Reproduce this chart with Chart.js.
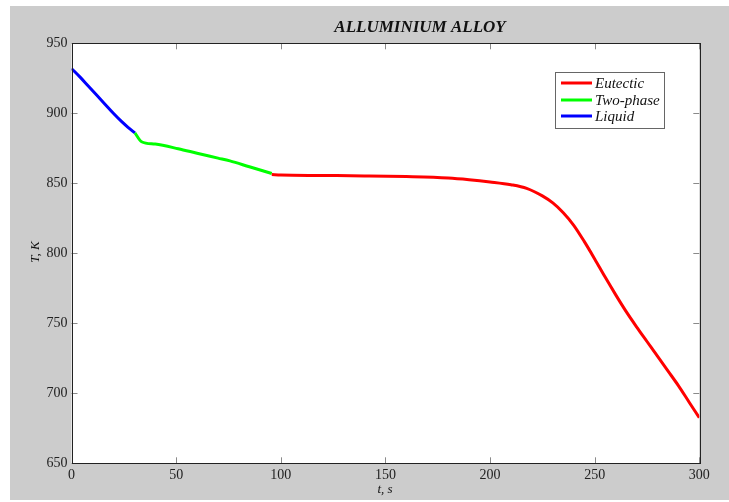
<!DOCTYPE html>
<html lang="en">
    <head>
        <meta charset="UTF-8">
        <title>Alluminium alloy</title>
        <script src="https://cdn.jsdelivr.net/npm/chart.js"></script>
        <style>
            body { margin: 0; background: white; }
            #wrap { width: 729px; height: 502px; }
        </style>
    </head>
    <body>
        <div id="wrap"><canvas id="coolingChart" width="729" height="502"></canvas></div>
        <script>
            // cooling curve (t in s, T in K)
            const liquidT = [0, 4, 8, 12, 16, 20, 24, 27, 30.3];
            const liquidK = [932, 926, 919.5, 913, 906.5, 900, 894, 890, 886];
            const twoPhaseT = [30.3, 33.5, 40, 51, 60, 70, 75.7, 85, 95.7];
            const twoPhaseK = [886, 879.7, 878, 874.7, 871.5, 868, 866, 861.8, 857];
            const eutecticT = [95.7, 100, 120, 140, 160, 180, 190, 200, 210, 217.5, 225, 230, 235, 240, 245, 250, 255, 260, 265, 270, 275, 280, 285, 290, 295, 300];
            const eutecticK = [856.2, 855.9, 855.6, 855.3, 854.8, 853.8, 852.6, 851, 849, 846.4, 841, 836, 829, 820, 808.5, 796, 783, 770.5, 758.5, 747.5, 737, 726.5, 716, 705.5, 694, 682.5];
            const xTicks = [0, 50, 100, 150, 200, 250, 300];
            const yTicks = [650, 700, 750, 800, 850, 900, 950];

            const pts = (xs, ys) => xs.map((x, i) => ({x: x, y: ys[i]}));
            const serif = '"Liberation Serif", "Times New Roman", serif';

            const framePlugin = {
                id: 'frame',
                beforeDraw(chart) {
                    const ctx = chart.ctx;
                    const a = chart.chartArea;
                    ctx.save();
                    ctx.fillStyle = '#ffffff';
                    ctx.fillRect(0, 0, chart.width, chart.height);
                    ctx.fillStyle = '#cccccc';
                    ctx.fillRect(10, 6, chart.width - 10, 494);
                    ctx.fillStyle = '#ffffff';
                    ctx.fillRect(a.left, a.top, a.right - a.left, a.bottom - a.top);
                    ctx.restore();
                },
                afterDraw(chart) {
                    const ctx = chart.ctx;
                    const a = chart.chartArea;
                    const xs = chart.scales.x, ys = chart.scales.y;
                    ctx.save();
                    // inward ticks on all four sides
                    ctx.strokeStyle = '#8a8a8a';
                    ctx.lineWidth = 1;
                    ctx.beginPath();
                    xTicks.forEach(v => {
                        const px = Math.round(xs.getPixelForValue(v)) + 0.5;
                        ctx.moveTo(px, a.bottom); ctx.lineTo(px, a.bottom - 6);
                        ctx.moveTo(px, a.top); ctx.lineTo(px, a.top + 6);
                    });
                    yTicks.forEach(v => {
                        const py = Math.round(ys.getPixelForValue(v)) + 0.5;
                        ctx.moveTo(a.left, py); ctx.lineTo(a.left + 6, py);
                        ctx.moveTo(a.right, py); ctx.lineTo(a.right - 6, py);
                    });
                    ctx.stroke();
                    ctx.strokeStyle = '#222222';
                    ctx.strokeRect(Math.round(a.left) + 0.5, Math.round(a.top) + 0.5,
                        Math.round(a.right - a.left), Math.round(a.bottom - a.top));

                    // title and axis names
                    ctx.fillStyle = '#111111';
                    ctx.textAlign = 'center';
                    ctx.textBaseline = 'alphabetic';
                    ctx.font = 'italic bold 17px ' + serif;
                    ctx.fillText('ALLUMINIUM ALLOY', 420, 32);
                    ctx.font = 'italic 13px ' + serif;
                    ctx.fillText('t, s', 385, 493);
                    ctx.save();
                    ctx.translate(39, 252);
                    ctx.rotate(-Math.PI / 2);
                    ctx.fillText('T, K', 0, 0);
                    ctx.restore();

                    // legend box
                    ctx.fillStyle = '#ffffff';
                    ctx.fillRect(555.5, 72.5, 109, 56);
                    ctx.strokeStyle = '#666666';
                    ctx.strokeRect(555.5, 72.5, 109, 56);
                    ctx.font = 'italic 15px ' + serif;
                    ctx.textAlign = 'left';
                    ctx.textBaseline = 'middle';
                    const rows = [83, 100, 116];
                    chart.data.datasets.forEach((ds, i) => {
                        ctx.strokeStyle = ds.borderColor;
                        ctx.lineWidth = 3;
                        ctx.beginPath();
                        ctx.moveTo(561, rows[i]); ctx.lineTo(592, rows[i]);
                        ctx.stroke();
                        ctx.fillStyle = '#111111';
                        ctx.fillText(ds.label, 595, rows[i] + 1);
                    });
                    ctx.restore();
                }
            };

            const line = (label, color, xs, ys) => ({
                label: label,
                data: pts(xs, ys),
                borderColor: color,
                backgroundColor: color,
                borderWidth: 3,
                pointRadius: 0,
                cubicInterpolationMode: 'monotone',
                fill: false
            });

            new Chart(document.getElementById('coolingChart'), {
                type: 'line',
                data: {
                    datasets: [
                        line('Eutectic', '#ff0000', eutecticT, eutecticK),
                        line('Two-phase', '#00ff00', twoPhaseT, twoPhaseK),
                        line('Liquid', '#0000ff', liquidT, liquidK)
                    ]
                },
                options: {
                    responsive: false,
                    animation: false,
                    layout: { padding: { left: 0, top: 43.3, right: 29.7, bottom: 0 } },
                    plugins: {
                        legend: { display: false },
                        tooltip: { enabled: false }
                    },
                    scales: {
                        x: {
                            type: 'linear',
                            min: 0, max: 300,
                            afterFit: s => { s.height = 38.7; },
                            afterBuildTicks: s => { s.ticks = xTicks.map(v => ({value: v})); },
                            grid: { display: false, drawTicks: false },
                            border: { display: false },
                            ticks: { padding: 4, color: '#222222', font: { family: serif, size: 14 } }
                        },
                        y: {
                            min: 650, max: 950,
                            afterFit: s => { s.width = 71.5; },
                            afterBuildTicks: s => { s.ticks = yTicks.map(v => ({value: v})); },
                            grid: { display: false, drawTicks: false },
                            border: { display: false },
                            ticks: { padding: 4, color: '#222222', font: { family: serif, size: 14 } }
                        }
                    }
                },
                plugins: [framePlugin]
            });
        </script>
    </body>
</html>
